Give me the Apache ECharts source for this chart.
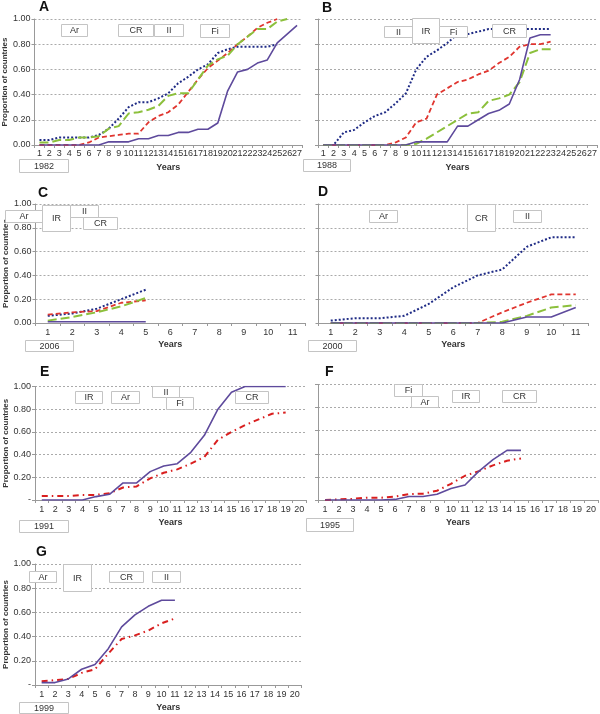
<!DOCTYPE html>
<html><head><meta charset="utf-8">
<script src="https://cdn.jsdelivr.net/npm/echarts@6/dist/echarts.min.js"></script>
<style>html,body{margin:0;padding:0;background:#fff}#c{width:600px;height:714px}</style>
</head><body><div id="c"></div>
<script>
// ---------- categories ----------
const cats27 = ['1','2','3','4','5','6','7','8','9','10','11','12','13','14','15','16','17','18','19','20','21','22','23','24','25','26','27'];
const cats11 = ['1','2','3','4','5','6','7','8','9','10','11'];
const cats20 = ['1','2','3','4','5','6','7','8','9','10','11','12','13','14','15','16','17','18','19','20'];

// ---------- panel A (1982) ----------
const A_navy   = [0.04,0.04,0.06,0.06,0.06,0.06,0.08,0.13,0.21,0.30,0.34,0.34,0.37,0.41,0.49,0.54,0.60,0.64,0.73,0.76,0.78,0.78,0.78,0.78,0.80];
const A_red    = [0,0,0,0,0,0.02,0.06,0.07,0.08,0.09,0.09,0.18,0.23,0.26,0.32,0.42,0.52,0.61,0.67,0.73,0.80,0.86,0.93,0.97,1.00];
const A_green  = [0.02,0.02,0.04,0.04,0.06,0.06,0.07,0.13,0.15,0.25,0.26,0.28,0.31,0.39,0.41,0.41,0.52,0.63,0.68,0.71,0.80,0.86,0.92,0.92,0.98,1.00];
const A_purple = [0,0,0,0,0,0,0,0.025,0.025,0.025,0.05,0.05,0.075,0.075,0.10,0.10,0.125,0.125,0.175,0.43,0.58,0.60,0.65,0.675,0.81,0.88,0.95];

// ---------- panel B (1988) ----------
const B_navy   = [0,0,0.10,0.12,0.18,0.23,0.26,0.33,0.41,0.60,0.70,0.75,0.81,0.88,0.88,0.90,0.92,0.92,0.92,0.92,0.92,0.92,0.92];
const B_red    = [0,0,0,0,0,0,0,0.02,0.06,0.18,0.21,0.40,0.45,0.50,0.52,0.56,0.59,0.65,0.70,0.78,0.80,0.80,0.82];
const B_green  = [0,0,0,0,0,0,0,0,0,0.01,0.05,0.10,0.15,0.20,0.25,0.26,0.35,0.37,0.40,0.50,0.73,0.76,0.76];
const B_purple = [0,0,0,0,0,0,0,0,0,0.025,0.025,0.025,0.025,0.15,0.15,0.20,0.25,0.275,0.325,0.52,0.85,0.875,0.875];

// ---------- panel C (2006) ----------
const C_navy   = [0.06,0.08,0.12,0.20,0.28];
const C_red    = [0.07,0.09,0.10,0.17,0.19];
const C_green  = [0.02,0.05,0.09,0.14,0.21];
const C_purple = [0.01,0.01,0.01,0.01,0.01];

// ---------- panel D (2000) ----------
const D_navy   = [0.02,0.04,0.04,0.06,0.16,0.30,0.40,0.45,0.64,0.72,0.72];
const D_red    = [0,0,0,0,0,0,0,0.09,0.17,0.24,0.24];
const D_green  = [0,0,0,0,0,0,0,0.01,0.06,0.13,0.15];
const D_purple = [0,0,0,0,0,0,0,0,0.05,0.05,0.13];

// ---------- panel E (1991) ----------
const E_purple = [0,0,0,0,0.03,0.05,0.15,0.15,0.25,0.30,0.32,0.42,0.57,0.80,0.95,1,1,1,1];
const E_red    = [0.035,0.035,0.035,0.045,0.045,0.06,0.11,0.12,0.19,0.24,0.27,0.32,0.38,0.53,0.60,0.66,0.71,0.76,0.77];

// ---------- panel F (1995) ----------
const F_purple = [0,0,0,0,0,0.005,0.03,0.03,0.05,0.10,0.13,0.25,0.35,0.43,0.43];
const F_red    = [0,0.005,0.01,0.02,0.02,0.03,0.05,0.055,0.08,0.14,0.21,0.25,0.30,0.34,0.36];

// ---------- panel G (1999) ----------
const G_purple = [0.02,0.02,0.05,0.13,0.17,0.30,0.48,0.58,0.65,0.70,0.70];
const G_red    = [0.03,0.04,0.05,0.10,0.13,0.26,0.38,0.41,0.45,0.51,0.55];

// ---------- text ----------
const panelLetters = ['A','B','C','D','E','F','G'];
const yearLabels = ['1982','1988','2006','2000','1991','1995','1999'];
const xName = 'Years';
const yName = 'Proportion of countries';

// ---------- styles ----------
const FONT = 'Arial, "Liberation Sans", sans-serif';
const ST = {
  navy:   {color:'#1f2b85', width:2,   type:[2,2]},
  red:    {color:'#e0352f', width:1.8, type:[5,3]},
  green:  {color:'#8cc03c', width:2,   type:[9,4]},
  purple: {color:'#5e4a9c', width:1.6, type:'solid'},
  redDD:  {color:'#d91f1f', width:2,   type:[6,4,1.5,4]}
};

// layout of grids
const panels = [
  {grid:{left:34.5, top:19, width:267.5, height:126}, cats:cats27, yl:'num', yn:true, lm:4, ng:18,
   series:[[A_navy,'navy'],[A_red,'red'],[A_green,'green'],[A_purple,'purple']]},
  {grid:{left:318, top:19, width:280, height:126}, cats:cats27, yl:'none', yn:false, lm:4, ng:18,
   series:[[B_navy,'navy'],[B_red,'red'],[B_green,'green'],[B_purple,'purple']]},
  {grid:{left:35.5, top:204, width:269.5, height:119}, cats:cats11, yl:'num', yn:true, lm:5, ng:17,
   series:[[C_navy,'navy'],[C_red,'red'],[C_green,'green'],[C_purple,'purple']]},
  {grid:{left:318.5, top:204, width:269.5, height:119}, cats:cats11, yl:'none', yn:false, lm:5, ng:17,
   series:[[D_navy,'navy'],[D_red,'red'],[D_green,'green'],[D_purple,'purple']]},
  {grid:{left:35, top:386.5, width:271, height:113.5}, cats:cats20, yl:'dash', yn:true, lm:5, ng:18,
   series:[[E_red,'redDD'],[E_purple,'purple']]},
  {grid:{left:318, top:384.5, width:280, height:115.5}, cats:cats20, yl:'none', yn:false, lm:5, ng:18,
   series:[[F_red,'redDD'],[F_purple,'purple']]},
  {grid:{left:35, top:564, width:266.5, height:121}, cats:cats20, yl:'dash', yn:true, lm:5, ng:18,
   series:[[G_red,'redDD'],[G_purple,'purple']]}
];

const grid = [], xAxis = [], yAxis = [], series = [];
panels.forEach((p, i) => {
  grid.push(p.grid);
  xAxis.push({
    type:'category', gridIndex:i, data:p.cats, boundaryGap:true,
    axisLine:{lineStyle:{color:'#999', width:1}},
    axisTick:{show:true, length:3, lineStyle:{color:'#999'}},
    axisLabel:{interval:0, fontSize:9, color:'#333', margin:p.lm, fontFamily:FONT},
    name:xName, nameLocation:'middle', nameGap:p.ng,
    nameTextStyle:{fontWeight:'bold', fontSize:9, color:'#333', fontFamily:FONT},
    splitLine:{show:false}
  });
  yAxis.push({
    type:'value', gridIndex:i, min:0, max:1, interval:0.2,
    axisLine:{show:true, lineStyle:{color:'#999', width:1}},
    axisTick:{show:true, length:3, lineStyle:{color:'#999'}},
    axisLabel:{show:p.yl !== 'none', fontSize:9, color:'#333', margin:4, fontFamily:FONT,
      formatter: v => (p.yl === 'dash' && v === 0) ? '-' : v.toFixed(2)},
    splitLine:{show:true, lineStyle:{color:'#aaa', width:1, type:[2,2]}},
    name: p.yn ? yName : '', nameLocation:'middle', nameGap:25,
    nameTextStyle:{fontWeight:'bold', fontSize:8, color:'#333', fontFamily:FONT}
  });
  p.series.forEach(([d, s]) => {
    series.push({
      type:'line', xAxisIndex:i, yAxisIndex:i, data:d, symbol:'none', smooth:false,
      lineStyle:Object.assign({cap:'butt'}, ST[s]), animation:false, silent:true
    });
  });
});

// annotation boxes [x, y, w, h, text]
const boxes = [
  [61,24,26,12,'Ar'],[118,24,35,12,'CR'],[154,24,29,12,'II'],[200,24,29,13,'Fi'],
  [384,26,28,11,'II'],[412,18,27,25,'IR'],[439,26,28,11,'Fi'],[492,24,34,13,'CR'],
  [5,210,37,12,'Ar'],[42,205,28,26,'IR'],[70,205,28,12,'II'],[83,217,34,12,'CR'],
  [369,210,28,12,'Ar'],[467,204,28,27,'CR'],[513,210,28,12,'II'],
  [75,391,27,12,'IR'],[111,391,28,12,'Ar'],[152,386,27,11,'II'],[166,397,27,12,'Fi'],[235,391,33,12,'CR'],
  [394,384,28,12,'Fi'],[411,396,27,11,'Ar'],[452,390,27,12,'IR'],[502,390,34,12,'CR'],
  [29,571,27,11,'Ar'],[63,564,28,27,'IR'],[109,571,34,11,'CR'],[152,571,28,11,'II']
];
const yearBoxes = [[19,159,49,13],[303,159,47,12],[25,340,48,11],[308,340,48,11],[19,520,49,12],[306,518,47,13],[19,702,49,11]];
const letterPos = [[39,0],[322,1],[38,186],[318,185],[40,365],[325,365],[36,545]];

const graphic = [];
function addBox(x,y,w,h,t){
  graphic.push({type:'rect', shape:{x:x+0.5,y:y+0.5,width:w,height:h}, style:{fill:'#fff', stroke:'#c4c4c4', lineWidth:1}, z:100});
  graphic.push({type:'text', x:x+w/2+0.5, y:y+h/2+1, style:{text:t, font:'9px '+FONT, fill:'#333', align:'center', verticalAlign:'middle'}, z:101});
}
boxes.forEach(b => addBox(b[0],b[1],b[2],b[3],b[4]));
yearBoxes.forEach((b,i) => addBox(b[0],b[1],b[2],b[3],yearLabels[i]));
letterPos.forEach((p,i) => graphic.push({type:'text', x:p[0], y:p[1], style:{text:panelLetters[i], font:'bold 14px '+FONT, fill:'#111', align:'left', verticalAlign:'top'}, z:101}));

const chart = echarts.init(document.getElementById('c'), null, {renderer:'canvas'});
chart.setOption({animation:false, backgroundColor:'#fff', grid, xAxis, yAxis, series, graphic});
</script></body></html>
